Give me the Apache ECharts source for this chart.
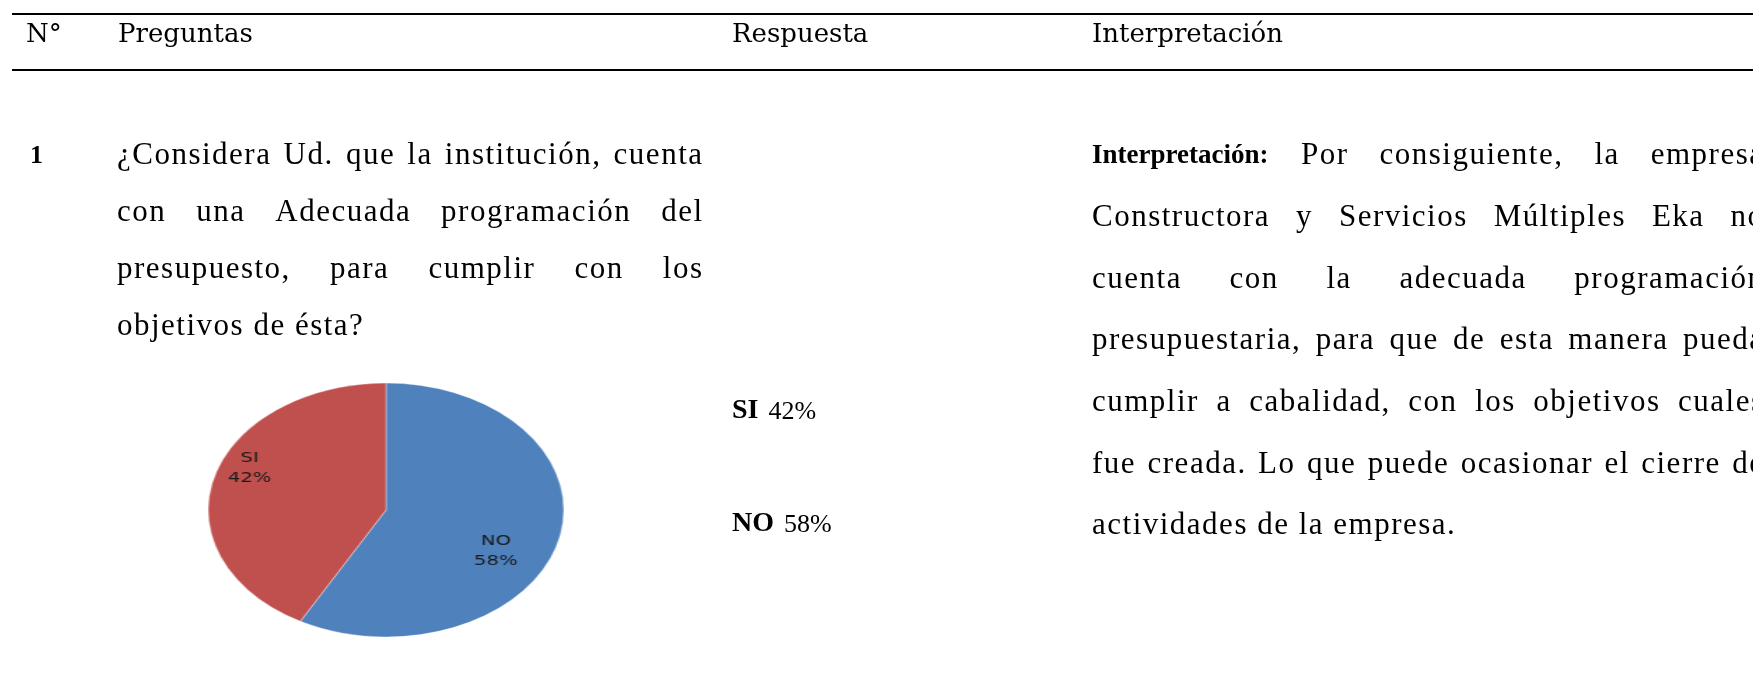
<!DOCTYPE html>
<html>
<head>
<meta charset="utf-8">
<script src="https://cdn.jsdelivr.net/npm/echarts@6/dist/echarts.min.js"></script>
<style>
  html, body { margin: 0; padding: 0; background: #fff; }
  #main { width: 1753px; height: 695px; }
  #pie {
    position: absolute;
    left: 236px;
    top: 360px;
    width: 300px;
    height: 300px;
    transform: scaleX(1.4);
    transform-origin: 50% 50%;
  }
</style>
</head>
<body>
<div id="main"></div>
<div id="pie"></div>
<script>
// table text
const headers = ['N°', 'Preguntas', 'Respuesta', 'Interpretación'];
const rowNumber = '1';
const questionLines = [
  '¿Considera Ud. que la institución, cuenta',
  'con una Adecuada programación del',
  'presupuesto, para cumplir con los',
  'objetivos de ésta?'
];
const interpLabel = 'Interpretación:';
const interpLines = [
  'Por consiguiente, la empresa',
  'Constructora y Servicios Múltiples Eka no',
  'cuenta con la adecuada programación',
  'presupuestaria, para que de esta manera pueda',
  'cumplir a cabalidad, con los objetivos cuales',
  'fue creada. Lo que puede ocasionar el cierre de',
  'actividades de la empresa.'
];

// pie data (clockwise from 12 o'clock)
const pieNames = ['NO', 'SI'];
const pieValues = [58, 42];
const pieColors = ['#4F81BD', '#C0504D'];

const BODY = '31px "Liberation Serif"';
const BODY_LS = 1.5;
const HEAD = '26px "DejaVu Serif"';
const BOLD_LBL = 'bold 27px "Liberation Serif"';

const mctx = document.createElement('canvas').getContext('2d');
function tw(s, font) { mctx.font = font; return mctx.measureText(s).width; }

const els = [];

function txt(x, y, text, font) {
  els.push({
    type: 'text', x: x, y: y, silent: true,
    style: { text: text, font: font, fill: '#000', align: 'left', verticalAlign: 'middle' }
  });
}

// draw a line of words, optionally justified to width
function addLine(runs, x0, y, width, justify) {
  const words = [];
  runs.forEach(r => r.text.split(' ').filter(Boolean).forEach(w => words.push({ w: w, font: r.font, ls: r.ls })));
  const widths = words.map(o => tw(o.w, o.font) + o.ls * (o.w.length - 1));
  const total = widths.reduce((a, b) => a + b, 0);
  let gap = tw(' ', BODY) + BODY_LS * 2;
  if (justify && words.length > 1) gap = (width - total) / (words.length - 1);
  let x = x0;
  words.forEach((o, i) => {
    if (o.ls) {
      const chars = Array.from(o.w);
      chars.forEach((ch, k) => {
        txt(x + tw(chars.slice(0, k).join(''), o.font) + k * o.ls, y, ch, o.font);
      });
    } else {
      txt(x, y, o.w, o.font);
    }
    x += widths[i] + gap;
  });
}

// rules
[14, 70].forEach(y => {
  els.push({ type: 'line', silent: true, shape: { x1: 12, y1: y, x2: 1753, y2: y }, style: { stroke: '#000', lineWidth: 2 } });
});

// header
const headX = [26, 118, 732, 1092];
headers.forEach((h, i) => txt(headX[i], 35, h, HEAD));

// row
const LINE0 = 156;
const Q_STEP = 57;
const I_STEP = 61.7;
txt(30, LINE0, rowNumber, 'bold 26px "Liberation Serif"');

questionLines.forEach((l, i) => {
  addLine([{ text: l, font: BODY, ls: BODY_LS }], 117, LINE0 + i * Q_STEP, 585, i < questionLines.length - 1);
});

interpLines.forEach((l, i) => {
  const runs = [{ text: l, font: BODY, ls: BODY_LS }];
  if (i === 0) runs.unshift({ text: interpLabel, font: BOLD_LBL, ls: 0 });
  addLine(runs, 1092, LINE0 + i * I_STEP, 671, i < interpLines.length - 1);
});

// answers column
const ansY = { SI: 411, NO: 524 };
['SI', 'NO'].forEach(n => {
  const y = ansY[n];
  const bw = tw(n, 'bold 28px "Liberation Serif"');
  txt(732, y, n, 'bold 28px "Liberation Serif"');
  txt(732 + bw + 10, y + 1, pieValues[pieNames.indexOf(n)] + '%', '26px "Liberation Serif"');
});

const main = echarts.init(document.getElementById('main'));
main.setOption({
  backgroundColor: '#fff',
  animation: false,
  graphic: { elements: els }
});

const labelOffsets = { NO: [14, 25], SI: [-33, -25] };
const pie = echarts.init(document.getElementById('pie'));
pie.setOption({
  animation: false,
  series: [{
    type: 'pie',
    center: ['50%', '50%'],
    radius: 127,
    startAngle: 90,
    clockwise: true,
    silent: true,
    itemStyle: { borderColor: 'rgba(255,255,255,0.6)', borderWidth: 0.6 },
    label: {
      show: true,
      position: 'inside',
      formatter: '{b}\n{d}%',
      fontFamily: 'DejaVu Sans',
      fontSize: 14,
      lineHeight: 20,
      color: '#1a1a1a'
    },
    labelLine: { show: false },
    data: pieNames.map((n, i) => ({
      name: n,
      value: pieValues[i],
      itemStyle: { color: pieColors[i] },
      label: { offset: labelOffsets[n] }
    }))
  }]
});
</script>
</body>
</html>
